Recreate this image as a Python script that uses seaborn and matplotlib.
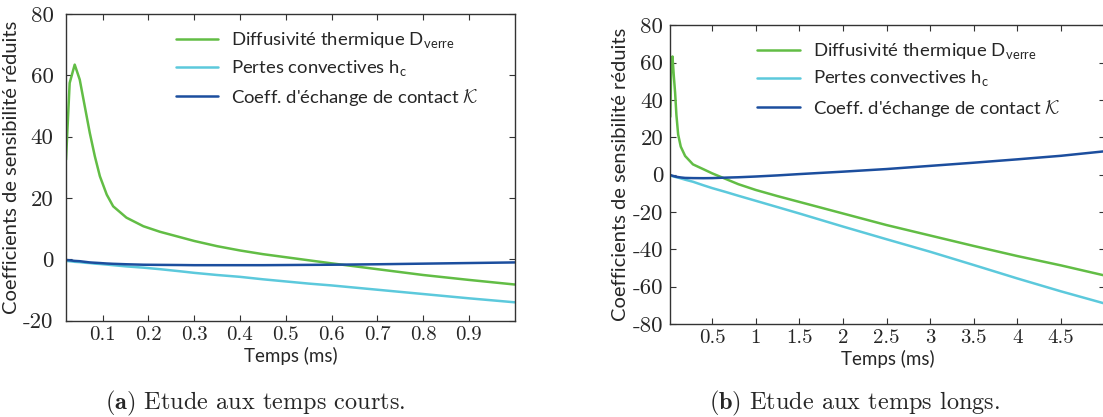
import numpy as np
import pandas as pd
import seaborn as sns
import matplotlib.pyplot as plt

# ---------------------------------------------------------------
# valeurs
# ---------------------------------------------------------------
# (a) temps courts
t_court = [0.02, 0.028, 0.039, 0.05, 0.061, 0.072, 0.083, 0.094, 0.109, 0.123,
           0.152, 0.189, 0.225, 0.27, 0.3, 0.35, 0.4, 0.45, 0.5, 0.55, 0.6,
           0.7, 0.8, 0.9, 1.0]
d_court = [32.5, 57.5, 63.5, 58.6, 49.9, 41.2, 33.6, 27.1, 21.1, 17.3,
           13.6, 10.8, 9.0, 7.2, 6.0, 4.3, 2.9, 1.7, 0.7, -0.3, -1.3,
           -3.2, -5.1, -6.7, -8.2]
h_court = [-0.5, -0.6, -0.8, -0.9, -1.1, -1.2, -1.4, -1.5, -1.7, -1.9,
           -2.3, -2.7, -3.2, -3.9, -4.4, -5.1, -5.7, -6.5, -7.2, -7.9, -8.5,
           -9.9, -11.3, -12.7, -14.0]
k_court = [-0.2, -0.3, -0.5, -0.6, -0.8, -1.0, -1.1, -1.2, -1.35, -1.45,
           -1.6, -1.75, -1.8, -1.85, -1.9, -1.9, -1.9, -1.9, -1.85, -1.8, -1.75,
           -1.6, -1.4, -1.2, -1.0]

# (b) temps longs
t_long = [0.02, 0.03, 0.045, 0.06, 0.075, 0.09, 0.11, 0.14, 0.19, 0.28, 0.4,
          0.5, 0.65, 0.8, 1.0, 1.25, 1.5, 2.0, 2.5, 3.0, 3.5, 4.0, 4.5, 5.0]
d_long = [31.0, 58.0, 63.3, 53.0, 44.0, 32.0, 21.5, 15.0, 10.0, 5.5, 2.9,
          0.7, -2.2, -5.1, -8.2, -11.5, -14.6, -20.8, -27.0, -32.6, -38.2,
          -43.6, -48.6, -54.0]
h_long = [-0.5, -0.6, -0.8, -1.0, -1.2, -1.4, -1.6, -2.0, -2.7, -3.8, -5.7,
          -7.2, -9.2, -11.3, -14.0, -17.4, -20.8, -27.8, -34.6, -41.3, -48.4,
          -55.6, -62.5, -69.0]
k_long = [-0.2, -0.35, -0.6, -0.8, -1.0, -1.15, -1.3, -1.5, -1.75, -1.85, -1.9,
          -1.85, -1.6, -1.4, -1.0, -0.4, 0.3, 1.6, 3.0, 4.7, 6.4, 8.2, 10.1, 12.5]

lab_D = r"Diffusivité thermique D$_{\mathregular{verre}}$"
lab_h = r"Pertes convectives h$_{\mathregular{c}}$"
lab_K = r"Coeff. d'échange de contact $\mathcal{K}$"
couleurs = {lab_D: "#62bd45", lab_h: "#5cc9dc", lab_K: "#1c4e9e"}

sns.set_theme(style="ticks")
plt.rcParams['font.family'] = ['Lato', 'DejaVu Sans']
plt.rcParams['mathtext.fontset'] = 'cm'

W, H = 1103, 417
fig = plt.figure(figsize=(W / 100, H / 100), dpi=100)
ax1 = fig.add_axes([66 / W, 1 - 320.7 / H, 448.7 / W, 306.7 / H])
ax2 = fig.add_axes([670.3 / W, 1 - 324 / H, 434.2 / W, 298.7 / H])


def tracer(ax, t, d, h, k, xlim, ylim, xt, yt, ypad, ylpad, leg_xy):
    df = pd.DataFrame({
        't': list(t) * 3,
        'val': list(d) + list(h) + list(k),
        'serie': [lab_D] * len(t) + [lab_h] * len(t) + [lab_K] * len(t),
    })
    sns.lineplot(data=df, x='t', y='val', hue='serie', palette=couleurs,
                 estimator=None, lw=1.8, ax=ax)
    ax.set_xlim(*xlim)
    ax.set_ylim(*ylim)
    ax.set_xticks(xt, labels=['%g' % v for v in xt],
                  fontfamily='cmr10', fontsize=15)
    ax.set_yticks(yt, labels=['%g' % v for v in yt],
                  fontfamily='cmr10', fontsize=16.5)
    ax.tick_params(direction='in', top=True, right=True, length=4,
                   width=0.8, color='#333333')
    ax.tick_params(axis='y', pad=ypad)
    ax.tick_params(axis='x', pad=4)
    for s in ax.spines.values():
        s.set_color('#333333')
        s.set_linewidth(1.0)
    ax.set_xlabel('Temps (ms)', fontsize=13.5, labelpad=2)
    ax.set_ylabel('Coefficients de sensibilité réduits', fontsize=14.5,
                  labelpad=ylpad)
    hd, lb = ax.get_legend_handles_labels()
    ax.legend(hd, lb, loc='upper left', bbox_to_anchor=leg_xy, frameon=False,
              fontsize=13.3, borderpad=0, borderaxespad=0, handlelength=2.3,
              handletextpad=0.7, labelspacing=0.4)


tracer(ax1, t_court, d_court, h_court, k_court, (0.02, 1.0), (-20, 80),
       [0.1, 0.2, 0.3, 0.4, 0.5, 0.6, 0.7, 0.8, 0.9],
       [-20, 0, 20, 40, 60, 80], 9, 2, (0.245, 0.945))
tracer(ax2, t_long, d_long, h_long, k_long, (0.02, 5.0), (-80, 80),
       [0.5, 1, 1.5, 2, 2.5, 3, 3.5, 4, 4.5],
       [-80, -60, -40, -20, 0, 20, 40, 60, 80], 5, 3, (0.2, 0.945))

fig.text(255 / W, 1 - 403 / H, r"$\mathbf{(a)}$ Etude aux temps courts.",
         fontfamily='cmr10', fontsize=17.5, ha='center', va='center')
fig.text(855 / W, 1 - 403 / H, r"$\mathbf{(b)}$ Etude aux temps longs.",
         fontfamily='cmr10', fontsize=17.5, ha='center', va='center')

fig.savefig('out.png', dpi=100)
